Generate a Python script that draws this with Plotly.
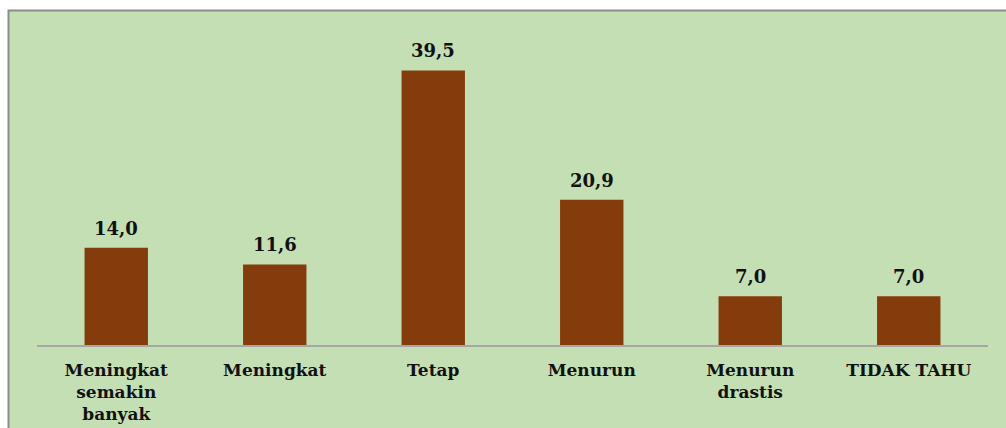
import plotly.graph_objects as go

categories = ["Meningkat<br>semakin<br>banyak", "Meningkat", "Tetap", "Menurun", "Menurun<br>drastis", "TIDAK TAHU"]
values = [14.0, 11.6, 39.5, 20.9, 7.0, 7.0]
value_labels = ["14,0", "11,6", "39,5", "20,9", "7,0", "7,0"]

W, H = 1006, 428
ml, mr, mt, mb = 37, 18, 32, 83
pw = W - ml - mr
ph = H - mt - mb

FONT = "DejaVu Serif"
GREEN = "#C5DFB4"
BROWN = "#843C0C"

xs = list(range(len(categories)))

fig = go.Figure(go.Bar(
    x=xs,
    y=values,
    width=0.4,
    marker=dict(color=BROWN, line=dict(width=0)),
    hoverinfo="skip",
))

# value labels above each bar
for x, v, t in zip(xs, values, value_labels):
    fig.add_annotation(x=x, y=v, text=f"<b>{t}</b>", showarrow=False,
                       xanchor="center", yanchor="bottom", yshift=7,
                       font=dict(family=FONT, size=18, color="#111111"))

# green chart area with a grey frame on the left and top
fig.add_shape(type="rect", xref="paper", yref="paper", layer="below",
              x0=(8.5 - ml) / pw, x1=(W + 5 - ml) / pw,
              y0=-(H + 5 - mt - ph) / ph, y1=(ph + mt - 10.5) / ph,
              fillcolor=GREEN, line=dict(color="#8C8C8C", width=2))

fig.update_layout(
    width=W, height=H,
    margin=dict(l=ml, r=mr, t=mt, b=mb, pad=0, autoexpand=False),
    paper_bgcolor="white",
    plot_bgcolor="rgba(0,0,0,0)",
    showlegend=False,
    xaxis=dict(
        tickmode="array",
        tickvals=xs,
        ticktext=[f"<b>{c}</b>" for c in categories],
        tickfont=dict(family=FONT, size=17, color="#111111"),
        ticklabelstandoff=9,
        automargin=False,
        range=[-0.5, len(categories) - 0.5],
        showline=True, linecolor="#A6A6A6", linewidth=1.5,
        ticks="", showgrid=False, zeroline=False,
    ),
    yaxis=dict(
        range=[0, ph / 6.95],
        visible=False, showgrid=False, zeroline=False,
    ),
)

fig.write_html("out.html")
